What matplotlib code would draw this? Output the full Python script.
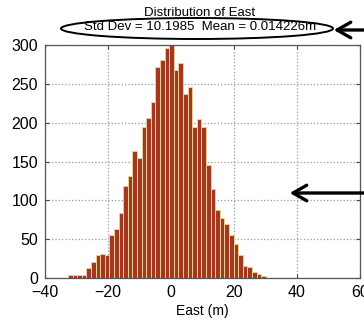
import numpy as np
import matplotlib
matplotlib.use('Agg')
import matplotlib.pyplot as plt
from matplotlib.patches import Ellipse

plt.rcParams['font.family'] = ['Liberation Sans', 'DejaVu Sans']

# histogram of East error (m)
bin_start = -32.7
bin_width = 1.46
counts = [4, 4, 4, 4, 13, 21, 29, 31, 29, 55, 63, 84, 119, 131, 163, 155,
          195, 206, 227, 272, 281, 296, 300, 268, 277, 237, 246, 195, 205,
          195, 145, 114, 88, 77, 69, 56, 44, 30, 15, 14, 8, 5, 3]
edges = bin_start + bin_width * np.arange(len(counts))

title1 = 'Distribution of East'
title2 = 'Std Dev = 10.1985  Mean = 0.014226m'
xticks = [-40, -20, 0, 20, 40, 60]
yticks = [0, 50, 100, 150, 200, 250, 300]

W, H = 364, 325
fig = plt.figure(figsize=(W / 100, H / 100), dpi=100)
ax = fig.add_axes([45 / W, 47 / H, 315 / W, 233 / H])

ax.bar(edges, counts, width=bin_width, align='edge',
       color='#a2381f', edgecolor='#e9cf98', linewidth=0.7, zorder=2)

ax.set_xlim(-40, 60)
ax.set_ylim(0, 300)
ax.set_xticks(xticks)
ax.set_yticks(yticks)
ax.grid(True, linestyle=':', color='#999999', linewidth=0.9, zorder=0)
ax.set_axisbelow(True)
ax.tick_params(direction='in', top=True, right=True, length=3,
               labelsize=11.5, color='#444444', pad=5)
for s in ax.spines.values():
    s.set_color('#555555')
    s.set_linewidth(0.9)
ax.set_xlabel('East (m)', fontsize=10, labelpad=3)

fig.text(200 / W, 1 - 13 / H, title1, ha='center', va='center', fontsize=9.5)
fig.text(200 / W, 1 - 27.5 / H, title2, ha='center', va='center', fontsize=9.5)

# hand-drawn marks: ellipse round the stats line and two arrows
ell = Ellipse((197, H - 28.5), 272, 21, transform=None, fill=False,
              edgecolor='black', linewidth=1.4, clip_on=False)
fig.patches.append(ell)

arrow = dict(arrowstyle='->,head_length=0.7,head_width=0.4', lw=2.4,
             color='black', mutation_scale=14)
for y in [30, 193]:
    x_head = 331 if y == 30 else 287
    ax.annotate('', xy=(x_head, H - y), xytext=(368, H - y),
                xycoords='figure pixels', textcoords='figure pixels',
                annotation_clip=False, arrowprops=arrow)

fig.savefig('out.png', dpi=100)
